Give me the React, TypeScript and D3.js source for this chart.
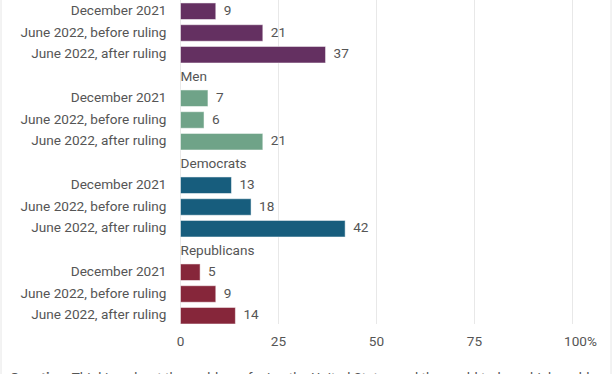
import { scaleBand, scaleLinear } from "d3";

const groups = ["Women", "Men", "Democrats", "Republicans"];
const periods = ["December 2021", "June 2022, before ruling", "June 2022, after ruling"];
const women = [9, 21, 37];
const men = [7, 6, 21];
const democrats = [13, 18, 42];
const republicans = [5, 9, 14];
const groupValues = [women, men, democrats, republicans];
const groupColors = ["#643061", "#6fa388", "#175d7d", "#86263a"];
const xTicks = [0, 25, 50, 75, 100];

const width = 612;
const height = 374;
const textColor = "#555555";
const font = "Roboto, 'Noto Sans', sans-serif";
const fs = 13.6;

export default function App() {
  // one header row + three bar rows per group
  const rows: string[] = [];
  groups.forEach((g) => {
    rows.push(`${g}-head`);
    periods.forEach((p) => rows.push(`${g}-${p}`));
  });

  const x = scaleLinear().domain([0, 100]).range([180.5, 572.5]);
  const y = scaleBand<string>()
    .domain(rows)
    .range([-21.4, 326.6])
    .paddingInner(0.24)
    .paddingOuter(0.12);

  const gridTop = 0;
  const gridBottom = 324;

  return (
    <svg
      width={width}
      height={height}
      style={{ position: "absolute", left: 0, top: 0, background: "#fff" }}
      fontFamily={font}
    >
      <line x1={1} x2={1} y1={0} y2={height} stroke="#e6e6e6" />
      <line x1={611} x2={611} y1={0} y2={height} stroke="#e6e6e6" />
      {xTicks.map((t) => (
        <g key={`tick-${t}`}>
          <line x1={x(t)} x2={x(t)} y1={gridTop} y2={gridBottom} stroke="#e8e8e8" strokeWidth={1} />
          <text
            x={t === 100 ? x(t) + 8 : x(t)}
            y={342}
            textAnchor="middle"
            dominantBaseline="middle"
            fontSize={fs}
            fill={textColor}
          >
            {t === 100 ? "100%" : t}
          </text>
        </g>
      ))}
      {groups.map((g, gi) => {
        const head = y(`${g}-head`) ?? 0;
        return (
          <g key={g}>
            <text
              x={x(0)}
              y={gi === 0 ? head - 4 : head + y.bandwidth() / 2 + 1}
              dominantBaseline="middle"
              fontSize={fs}
              fill={textColor}
            >
              {g}
            </text>
            {periods.map((p, pi) => {
              const top = y(`${g}-${p}`) ?? 0;
              const v = groupValues[gi][pi];
              const cy = top + y.bandwidth() / 2;
              return (
                <g key={p}>
                  <text
                    x={166.5}
                    y={cy}
                    textAnchor="end"
                    dominantBaseline="middle"
                    fontSize={fs}
                    fill={textColor}
                  >
                    {p}
                  </text>
                  <rect
                    x={x(0)}
                    y={top}
                    width={x(v) - x(0)}
                    height={y.bandwidth()}
                    fill={groupColors[gi]}
                    stroke="#ffffff"
                    strokeOpacity={0.5}
                    strokeWidth={1}
                  />
                  <text
                    x={x(v) + 8}
                    y={cy}
                    dominantBaseline="middle"
                    fontSize={fs}
                    fill={textColor}
                  >
                    {v}
                  </text>
                </g>
              );
            })}
          </g>
        );
      })}
      <text x={10} y={382} fontSize={fs} fill={textColor}>
        <tspan fontWeight="bold">Question:</tspan> Thinking about the problems facing the United States and the world today, which problem
      </text>
    </svg>
  );
}
